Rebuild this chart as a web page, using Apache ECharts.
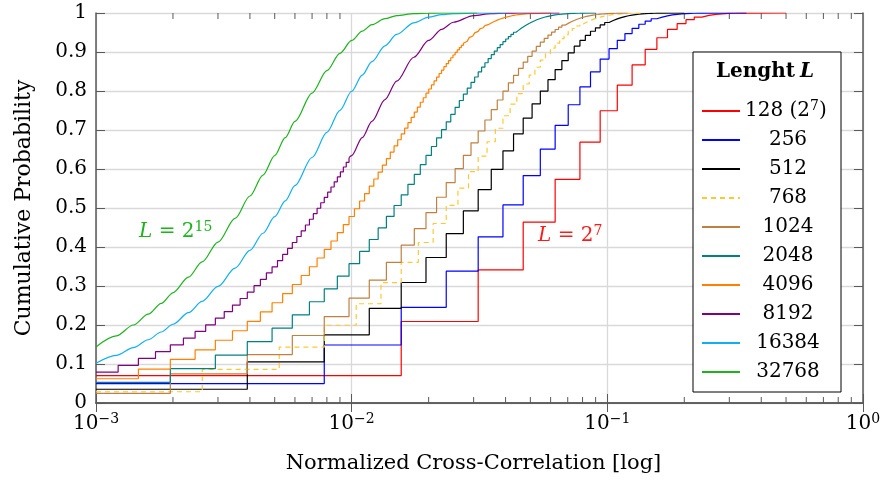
<!DOCTYPE html>
<html><head><meta charset="utf-8">
<script src="https://cdn.jsdelivr.net/npm/echarts@6/dist/echarts.min.js"></script>
<style>html,body{margin:0;padding:0;background:#fff}#c{width:884px;height:480px}</style>
</head><body><div id="c"></div><script>
// ---- data ----
const lengths = [128, 256, 512, 768, 1024, 2048, 4096, 8192, 16384, 32768];
const seriesColors = ['#ff0000','#0000ff','#000000','#ffc830','#bf8040','#008080','#ff8000','#800080','#10b0f0','#1db31d'];
const lineEnd = [0.5, 0.35, 0.2, 0.14, 0.12, 0.09, 0.06, 0.065, 0.04, 0.031];
const xTicks = [0.001, 0.01, 0.1, 1];
const yTicks = [0, 0.1, 0.2, 0.3, 0.4, 0.5, 0.6, 0.7, 0.8, 0.9, 1];
const minorTickValues = [0.002,0.003,0.004,0.005,0.006,0.007,0.008,0.009,0.02,0.03,0.04,0.05,0.06,0.07,0.08,0.09,0.2,0.3,0.4,0.5,0.6,0.7,0.8,0.9];

// step CDFs: entry k is the level reached at correlation 2k/L
const cdf128 = [0.0704,0.2090,0.3413,0.4637,0.5735,0.6689,0.7493,0.8149,0.8669,0.9068,0.9365,0.9579,0.9728,0.9830,0.9896,0.9939,0.9964,0.9980,0.9990,0.9994,0.9997,0.9998,1];
const cdf256 = [0.0499,0.1487,0.2452,0.3381,0.4262,0.5080,0.5832,0.6512,0.7120,0.7648,0.8104,0.8492,0.8818,0.9084,0.9299,0.9472,0.9608,0.9712,0.9792,0.9852,0.9896,0.9928,0.9951,0.9966,0.9977,0.9985,0.9991,0.9994,0.9996,0.9998,1];
const cdf512 = [0.0352,0.1055,0.1748,0.2428,0.3090,0.3731,0.4343,0.4924,0.5473,0.5988,0.6465,0.6903,0.7305,0.7671,0.7999,0.8291,0.8550,0.8780,0.8979,0.9150,0.9298,0.9426,0.9532,0.9621,0.9695,0.9757,0.9808,0.9849,0.9882,0.9909,0.9930,0.9946,0.9958,0.9969,0.9976,0.9982,0.9987,0.9991,0.9993,0.9995,0.9996,0.9998,1];
const cdf768 = [0.0288,0.0862,0.1431,0.1993,0.2545,0.3084,0.3608,0.4115,0.4602,0.5068,0.5511,0.5932,0.6328,0.6699,0.7045,0.7365,0.7661,0.7933,0.8180,0.8406,0.8609,0.8792,0.8955,0.9101,0.9230,0.9342,0.9442,0.9528,0.9603,0.9667,0.9722,0.9769,0.9810,0.9844,0.9872,0.9896,0.9915,0.9932,0.9945,0.9956,0.9964,0.9972,0.9978,0.9983,0.9987,0.9990,0.9992,0.9994,0.9995,0.9996,0.9997,1];
const cdf1024 = [0.0249,0.0747,0.1242,0.1731,0.2215,0.2689,0.3153,0.3606,0.4046,0.4471,0.4882,0.5276,0.5653,0.6012,0.6351,0.6671,0.6974,0.7257,0.7522,0.7769,0.7998,0.8210,0.8403,0.8579,0.8741,0.8888,0.9021,0.9142,0.9251,0.9348,0.9434,0.9510,0.9577,0.9636,0.9688,0.9734,0.9774,0.9809,0.9839,0.9865,0.9886,0.9905,0.9921,0.9934,0.9946,0.9955,0.9962,0.9970,0.9975,0.9980,0.9984,0.9987,0.9990,0.9992,0.9993,0.9995,0.9996,0.9997,1];
const cdf2048 = [0.0176,0.0529,0.0880,0.1229,0.1576,0.1919,0.2261,0.2596,0.2926,0.3253,0.3572,0.3886,0.4192,0.4490,0.4783,0.5064,0.5339,0.5606,0.5861,0.6110,0.6349,0.6577,0.6799,0.7008,0.7209,0.7402,0.7582,0.7756,0.7920,0.8074,0.8223,0.8359,0.8489,0.8612,0.8724,0.8832,0.8931,0.9023,0.9111,0.9190,0.9264,0.9333,0.9395,0.9454,0.9507,0.9555,0.9601,0.9641,0.9678,0.9713,0.9742,0.9771,0.9796,0.9819,0.9840,0.9858,0.9875,0.9890,0.9902,0.9914,0.9925,0.9934,0.9943,0.9950,0.9956,0.9961,0.9966,0.9971,0.9974,0.9978,0.9981,0.9984,0.9986,0.9989,0.9990,0.9992,0.9993,0.9994,0.9995,0.9995,0.9996,0.9997,1];
const cdf4096 = [0.0125,0.0374,0.0622,0.0871,0.1119,0.1364,0.1609,0.1852,0.2094,0.2334,0.2571,0.2806,0.3038,0.3269,0.3494,0.3718,0.3937,0.4154,0.4367,0.4575,0.4782,0.4981,0.5180,0.5370,0.5559,0.5743,0.5922,0.6098,0.6266,0.6434,0.6592,0.6750,0.6900,0.7047,0.7189,0.7325,0.7459,0.7585,0.7711,0.7827,0.7943,0.8051,0.8157,0.8258,0.8355,0.8449,0.8536,0.8623,0.8702,0.8780,0.8853,0.8923,0.8990,0.9053,0.9114,0.9170,0.9225,0.9275,0.9324,0.9369,0.9412,0.9453,0.9491,0.9528,0.9560,0.9593,0.9622,0.9650,0.9676,0.9700,0.9723,0.9744,0.9765,0.9783,0.9801,0.9817,0.9832,0.9845,0.9858,0.9870,0.9881,0.9891,0.9900,0.9909,0.9917,0.9924,0.9931,0.9937,0.9943,0.9948,0.9953,0.9957,0.9960,0.9964,0.9968,0.9971,0.9974,0.9976,0.9979,0.9981,0.9982,1];
const cdf8192 = [0.0088,0.0264,0.0441,0.0617,0.0792,0.0967,0.1142,0.1316,0.1489,0.1663,0.1834,0.2005,0.2176,0.2344,0.2512,0.2679,0.2845,0.3008,0.3171,0.3334,0.3492,0.3651,0.3809,0.3963,0.4115,0.4269,0.4416,0.4564,0.4711,0.4854,0.4994,0.5135,0.5272,0.5406,0.5539,0.5671,0.5798,0.5925,0.6051,0.6170,0.6289];
// fine-grained curves (steps too small to show individually)
const xTail8192 = [0.01,0.011,0.012,0.0135,0.015,0.0175,0.02,0.0225,0.025,0.03,0.035,0.04,0.045];
const cdf8192Tail = [0.6344,0.6805,0.7223,0.7780,0.8253,0.8866,0.9296,0.9582,0.9763,0.9934,0.9984,0.9997,1];
const xFine = [0.001,0.0012,0.0014,0.0016,0.0018,0.002,0.0023,0.0026,0.003,0.0035,0.004,0.0045,0.005,0.0055,0.006,0.007,0.008,0.009,0.01,0.011,0.012,0.0135,0.015,0.0175,0.02,0.0225,0.025,0.03,0.035];
const cdf16384 = [0.1019,0.1220,0.1421,0.1622,0.1821,0.2019,0.2315,0.2605,0.2988,0.3457,0.3912,0.4353,0.4778,0.5185,0.5574,0.6295,0.6939,0.7505,0.7993,0.8408,0.8753,0.9158,0.9451,0.9748,0.9895,0.9959,0.9986,0.9999,1];
const cdf32768 = [0.1436,0.1719,0.2000,0.2278,0.2553,0.2826,0.3227,0.3619,0.4127,0.4736,0.5308,0.5844,0.6344,0.6805,0.7223,0.7948,0.8522,0.8967,0.9296,0.9535,0.9701,0.9854,0.9934,0.9984,0.9997,0.99995,1,1,1];
const annot15 = [0.00205, 0.438];
const annot7 = [0.0716, 0.4275];

// ---- build ----
const FONT = 'DejaVu Serif';
const XMIN = 0.001, XMAX = 1;
function stepData(L, ys, endX) {
  const w = 2 / L;
  let pts = [];
  ys.forEach((y, k) => {
    const x = k * w;
    if (x <= XMIN) pts = [[XMIN, y]]; else pts.push([x, y]);
  });
  pts.push([endX, 1]);
  return pts;
}
function fineData(xs, ys, endX) {
  const pts = [];
  for (let i = 0; i < xs.length; i++) {
    if (xs[i] >= endX) break;
    pts.push([xs[i], ys[i]]);
    if (ys[i] >= 1) break;
  }
  pts.push([endX, 1]);
  return pts;
}
const stepSets = [cdf128, cdf256, cdf512, cdf768, cdf1024, cdf2048, cdf4096];
const series = [];
function baseLine(i) {
  return {
    name: String(lengths[i]), type: 'line', symbol: 'none', showSymbol: false,
    animation: false, silent: true, emphasis: {disabled: true},
    itemStyle: {color: seriesColors[i]},
    lineStyle: {color: seriesColors[i], width: 1.2, type: i === 3 ? [5, 4] : 'solid'}
  };
}
stepSets.forEach((ys, i) => {
  const s = baseLine(i);
  s.step = 'end';
  s.data = stepData(lengths[i], ys, lineEnd[i]);
  series.push(s);
});
// 8192: staircase then fine curve
const s8 = baseLine(7); s8.step = 'end'; s8.data = stepData(8192, cdf8192, 0); s8.data.pop();
series.push(s8);
const s8t = baseLine(7); s8t.smooth = 0.3; s8t.smoothMonotone = 'x';
s8t.data = [s8.data[s8.data.length - 1]].concat(fineData(xTail8192, cdf8192Tail, lineEnd[7]));
series.push(s8t);
[[8, cdf16384], [9, cdf32768]].forEach(([i, ys]) => {
  const s = baseLine(i); s.smooth = 0.3; s.smoothMonotone = 'x';
  s.data = fineData(xFine, ys, lineEnd[i]);
  series.push(s);
});
// annotations
function annot(coord, color, sup) {
  return {
    silent: true, symbol: 'rect', symbolSize: 1, itemStyle: {color: 'rgba(0,0,0,0)'},
    label: {show: true, position: 'inside', formatter: '{i|L}{n| = 2}{s|' + sup + '}',
      textBorderWidth: 0,
      rich: {
        i: {fontFamily: FONT, fontStyle: 'italic', fontSize: 20, color: color, lineHeight: 24},
        n: {fontFamily: FONT, fontSize: 20, color: color, lineHeight: 24},
        s: {fontFamily: FONT, fontSize: 14, color: color, lineHeight: 14, verticalAlign: 'top'}
      }},
    data: [{coord: coord}]
  };
}
series[0].markPoint = annot(annot7, '#ff1a1a', '7');
series[series.length - 1].markPoint = annot(annot15, '#1db31d', '15');
// minor ticks on log axis
series.push({
  type: 'custom', silent: true, z: 1, animation: false,
  data: minorTickValues.map(v => [v, 0]),
  encode: {x: 0, y: 1},
  renderItem: (params, api) => {
    const p0 = api.coord([api.value(0), 0]);
    const p1 = api.coord([api.value(0), 1]);
    const st = {stroke: '#5a5a5a', lineWidth: 1};
    return {type: 'group', children: [
      {type: 'line', shape: {x1: p0[0], y1: p0[1], x2: p0[0], y2: p0[1] - 6}, style: st},
      {type: 'line', shape: {x1: p1[0], y1: p1[1], x2: p1[0], y2: p1[1] + 6}, style: st}
    ]};
  }
});

const axisLineStyle = {color: '#5a5a5a', width: 1.5};
const supFmt = v => {
  const e = Math.round(Math.log10(v));
  return '{b|10}{s|' + (e < 0 ? '\u2212' + (-e) : e) + '}';
};
const option = {
  backgroundColor: '#fff',
  animation: false,
  title: {
    text: '{b|Lenght} {i|L}', left: 716, top: 60, padding: 0, z: 10,
    textStyle: {rich: {
      b: {fontFamily: FONT, fontWeight: 'bold', fontSize: 20, color: '#000', lineHeight: 24},
      i: {fontFamily: FONT, fontStyle: 'italic', fontSize: 20, color: '#000', lineHeight: 24}
    }}
  },
  legend: {
    data: lengths.map(String), orient: 'vertical', left: 693, top: 52,
    padding: [47, 10, 10, 8], itemWidth: 38, itemHeight: 14, itemGap: 9,
    backgroundColor: '#fff', borderColor: '#000', borderWidth: 1, borderRadius: 0,
    selectedMode: false,
    itemStyle: {color: 'rgba(0,0,0,0)', borderWidth: 0, opacity: 0},
    formatter: name => name === '128' ? '{t|128 (2}{s|7}{t|)}' : '{c|' + name + '}',
    textStyle: {color: '#000', fontFamily: FONT, fontSize: 20, rich: {
      t: {fontFamily: FONT, fontSize: 20, color: '#000', lineHeight: 24},
      s: {fontFamily: FONT, fontSize: 14, color: '#000', lineHeight: 14, verticalAlign: 'top'},
      c: {fontFamily: FONT, fontSize: 20, color: '#000', lineHeight: 24, width: 86, align: 'center'}
    }}
  },
  grid: {left: 96, right: 21, top: 13, bottom: 77, containLabel: false},
  xAxis: [{
    type: 'log', logBase: 10, min: XMIN, max: XMAX, position: 'bottom',
    name: 'Normalized Cross-Correlation [log]', nameLocation: 'middle', nameGap: 50,
    nameTextStyle: {fontFamily: FONT, fontSize: 21, color: '#000', padding: [0, 12, 0, 0]},
    axisLine: {show: true, lineStyle: axisLineStyle},
    axisTick: {show: true, inside: true, length: 9, lineStyle: {color: '#5a5a5a', width: 1}},
    minorTick: {show: false},
    axisLabel: {margin: 9, formatter: supFmt, rich: {
      b: {fontFamily: FONT, fontSize: 20, color: '#000', lineHeight: 24},
      s: {fontFamily: FONT, fontSize: 14, color: '#000', lineHeight: 14, verticalAlign: 'top'}
    }},
    splitLine: {show: true, lineStyle: {color: '#d9d9d9', width: 1.3}}
  }, {
    type: 'log', logBase: 10, min: XMIN, max: XMAX, position: 'top',
    axisLine: {show: true, lineStyle: axisLineStyle},
    axisTick: {show: true, inside: true, length: 9, lineStyle: {color: '#5a5a5a', width: 1}},
    axisLabel: {show: false}, splitLine: {show: false}
  }],
  yAxis: [{
    type: 'value', min: 0, max: 1, interval: 0.1, position: 'left',
    name: 'Cumulative Probability', nameLocation: 'middle', nameGap: 61,
    nameTextStyle: {fontFamily: FONT, fontSize: 22, color: '#000'},
    axisLine: {show: true, lineStyle: axisLineStyle},
    axisTick: {show: true, inside: true, length: 9, lineStyle: {color: '#5a5a5a', width: 1}},
    axisLabel: {margin: 9, fontFamily: FONT, fontSize: 20, color: '#000',
      formatter: v => (Math.abs(v) < 1e-9 ? '0' : Math.abs(v - 1) < 1e-9 ? '1' : v.toFixed(1))},
    splitLine: {show: true, lineStyle: {color: '#d9d9d9', width: 1.3}}
  }, {
    type: 'value', min: 0, max: 1, interval: 0.1, position: 'right',
    axisLine: {show: true, lineStyle: axisLineStyle},
    axisTick: {show: true, inside: true, length: 9, lineStyle: {color: '#5a5a5a', width: 1}},
    axisLabel: {show: false}, splitLine: {show: false}
  }],
  series: series
};
const chart = echarts.init(document.getElementById('c'), null, {renderer: 'canvas'});
chart.setOption(option);
</script></body></html>
